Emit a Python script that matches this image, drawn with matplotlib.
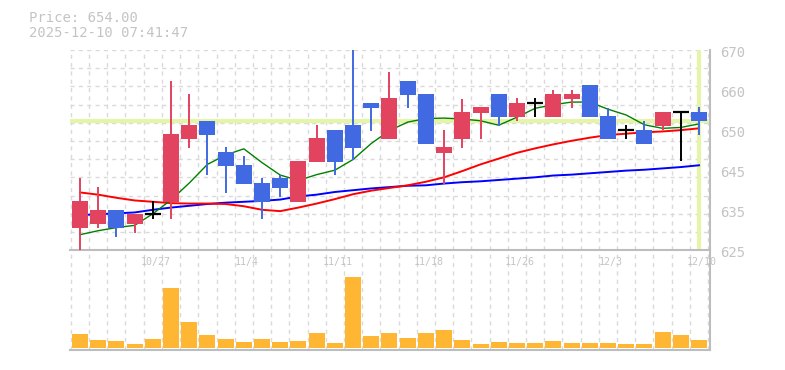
import matplotlib
matplotlib.use('Agg')
import matplotlib.pyplot as plt
import numpy as np
from matplotlib.transforms import offset_copy

# ---------------------------------------------------------------------------
# data (daily candles 10/21 .. 12/10)
# ---------------------------------------------------------------------------
dates = ['10/21', '10/22', '10/23', '10/24', '10/27', '10/28', '10/29', '10/30', '10/31',
         '11/4', '11/5', '11/6', '11/7', '11/10', '11/11', '11/12', '11/13', '11/14',
         '11/17', '11/18', '11/19', '11/20', '11/21', '11/25', '11/26', '11/27', '11/28',
         '12/1', '12/2', '12/3', '12/4', '12/5', '12/8', '12/9', '12/10']
label_dates = ['10/27', '11/4', '11/11', '11/18', '11/26', '12/3', '12/10']

opens = [630.0, 630.9, 634.0, 630.9, 633.1, 635.8, 650.0, 654.1, 647.0, 644.1, 640.1, 641.2,
         635.8, 644.8, 652.0, 653.1, 658.1, 650.0, 663.0, 660.1, 646.9, 650.0, 655.9, 660.1,
         655.0, 658.1, 655.0, 659.0, 662.1, 655.1, 652.0, 652.0, 653.0, 656.0, 656.0]
closes = [636.0, 634.0, 630.0, 633.1, 633.1, 651.1, 653.1, 650.9, 643.9, 639.9, 635.8, 639.0,
          645.0, 650.2, 644.9, 648.0, 657.0, 659.2, 660.0, 648.9, 648.2, 656.0, 657.2, 655.0,
          658.1, 658.1, 660.1, 660.1, 655.0, 650.0, 652.0, 648.9, 656.0, 656.0, 654.0]
highs = [641.3, 639.2, 634.0, 633.1, 636.0, 663.0, 660.1, 654.1, 648.2, 646.2, 641.2, 642.0,
         645.0, 653.1, 652.0, 670.0, 658.1, 665.0, 663.0, 660.1, 652.0, 659.1, 657.2, 660.1,
         659.2, 659.2, 661.0, 661.0, 662.1, 657.0, 653.1, 654.0, 656.0, 656.0, 657.2]
lows = [625.0, 630.0, 628.0, 628.9, 632.1, 632.0, 648.0, 641.9, 637.9, 639.9, 632.0, 637.0,
        635.8, 644.8, 641.9, 645.2, 651.8, 650.0, 657.0, 648.9, 639.9, 648.0, 650.0, 653.0,
        654.0, 655.0, 655.0, 657.0, 655.0, 650.0, 650.0, 648.9, 652.0, 645.0, 650.9]

ma_short = [628.5, 629.4, 630.1, 630.6, 633.2, 636.3, 640.1, 644.3, 646.4, 647.8, 644.7, 641.9,
            640.7, 642.0, 643.0, 645.4, 649.0, 651.9, 653.8, 654.6, 654.7, 654.5, 654.1, 653.1,
            654.9, 656.9, 657.7, 658.3, 658.3, 656.7, 655.4, 653.2, 652.4, 652.6, 653.4]
ma_mid = [638.0, 637.5, 636.8, 636.2, 635.9, 635.6, 635.5, 635.5, 635.4, 634.9, 634.1, 633.8,
          634.6, 635.5, 636.5, 637.6, 638.4, 639.0, 639.6, 640.4, 641.4, 642.8, 644.3, 645.6,
          646.9, 647.9, 648.8, 649.6, 650.3, 650.9, 651.2, 651.5, 651.7, 652.0, 652.4]
ma_long = [632.9, 633.1, 633.3, 633.5, 634.1, 634.6, 635.0, 635.4, 635.7, 635.9, 636.1, 636.4,
           637.1, 637.5, 638.1, 638.5, 638.9, 639.2, 639.5, 639.6, 640.0, 640.3, 640.5, 640.8,
           641.1, 641.4, 641.8, 642.0, 642.3, 642.6, 642.9, 643.1, 643.4, 643.7, 644.1]

volume = [14, 8, 7, 4, 9, 60, 26, 13, 9, 6, 9, 6, 7, 15, 5, 71, 12, 15, 10, 15, 18, 8,
          4, 6, 5, 5, 7, 5, 5, 5, 4, 4, 16, 13, 8]

last_price = 654.0
stamp = '2025-12-10 07:41:47'

# ---------------------------------------------------------------------------
W, H = 785, 370
fig = plt.figure(figsize=(W / 100, H / 100), dpi=100)
mono = 'DejaVu Sans Mono'
txt_col = '#c4c4c4'
frame_col = '#bdbdbd'
grid_col = '#dadada'
hi_col = '#e5f5a8'
up_col = '#e2435f'
down_col = '#4169e1'


def px_axes(x0, y0, x1, y1):
    return fig.add_axes([x0 / W, 1 - y1 / H, (x1 - x0) / W, (y1 - y0) / H])


ax = px_axes(70.3, 50, 710.3, 250.3)
axv = px_axes(70.3, 251, 710.3, 350)
# price panel on top so its date labels are not hidden by the volume panel
ax.set_zorder(2)
ax.patch.set_visible(False)
axv.patch.set_visible(False)

n = len(dates)
x = np.arange(n)
xlim = (-0.53, n - 0.38)
ymin, ymax = 625, 670

for a in (ax, axv):
    a.set_xlim(*xlim)
    a.set_xticks([])
    a.set_yticks([])
    for s in ('top', 'left'):
        a.spines[s].set_visible(False)
    for s in ('right', 'bottom'):
        a.spines[s].set_color(frame_col)
        a.spines[s].set_linewidth(1.5)
    for k in range(n + 1):
        a.axvline(k - 0.5, color=grid_col, lw=1, ls=(0, (3, 3)), zorder=0)

ax.set_ylim(ymin, ymax)
for k in range(12):
    ax.axhline(ymin + k * (ymax - ymin) / 11, color=grid_col, lw=1, ls=(0, (3, 3)), zorder=0)

# current price / last bar highlight
ax.axhline(last_price, color=hi_col, lw=3, zorder=1)
ax.axvline(n - 1, color=hi_col, lw=3, zorder=1)

# moving averages
ax.plot(x, ma_long, color='#0000ff', lw=1.4, zorder=2)
ax.plot(x, ma_mid, color='#ff0000', lw=1.4, zorder=2)
ax.plot(x, ma_short, color='#008000', lw=1.0, zorder=2)

# candles
for i in range(n):
    o, c, h, l = opens[i], closes[i], highs[i], lows[i]
    col = up_col if c > o else (down_col if c < o else 'black')
    ax.vlines(i, l, h, color=col, lw=1.4, zorder=3)
    if c != o:
        ax.bar(i, abs(c - o), bottom=min(o, c), width=0.88, color=col, zorder=4)
    else:
        ax.hlines(o, i - 0.44, i + 0.44, color='black', lw=1.6, zorder=4)

# right-side price labels (rounded to 5)
ytr = offset_copy(ax.get_yaxis_transform(), fig=fig, x=10, y=-3, units='dots')
for k in range(6):
    v = ymin + k * (ymax - ymin) / 5
    ax.text(1, v, str(int(5 * round(v / 5))), transform=ytr, ha='left', va='center',
            fontsize=10, family=mono, color=txt_col, clip_on=False)

# date labels
xtr = offset_copy(ax.get_xaxis_transform(), fig=fig, x=3, y=-7, units='dots')
for d in label_dates:
    ax.text(dates.index(d), 0, d, transform=xtr, ha='center', va='top',
            fontsize=7.2, family=mono, color=txt_col, clip_on=False, zorder=5)

# volume
axv.set_ylim(-2, 97)
axv.bar(x, volume, width=0.88, color='#ffb733', zorder=2)

fig.text(29 / W, 1 - 18 / H, f'Price: {last_price:.2f}', ha='left', va='center',
         fontsize=10, family=mono, color=txt_col)
fig.text(29 / W, 1 - 33 / H, stamp, ha='left', va='center',
         fontsize=10, family=mono, color=txt_col)

fig.savefig('out.png', dpi=100)
